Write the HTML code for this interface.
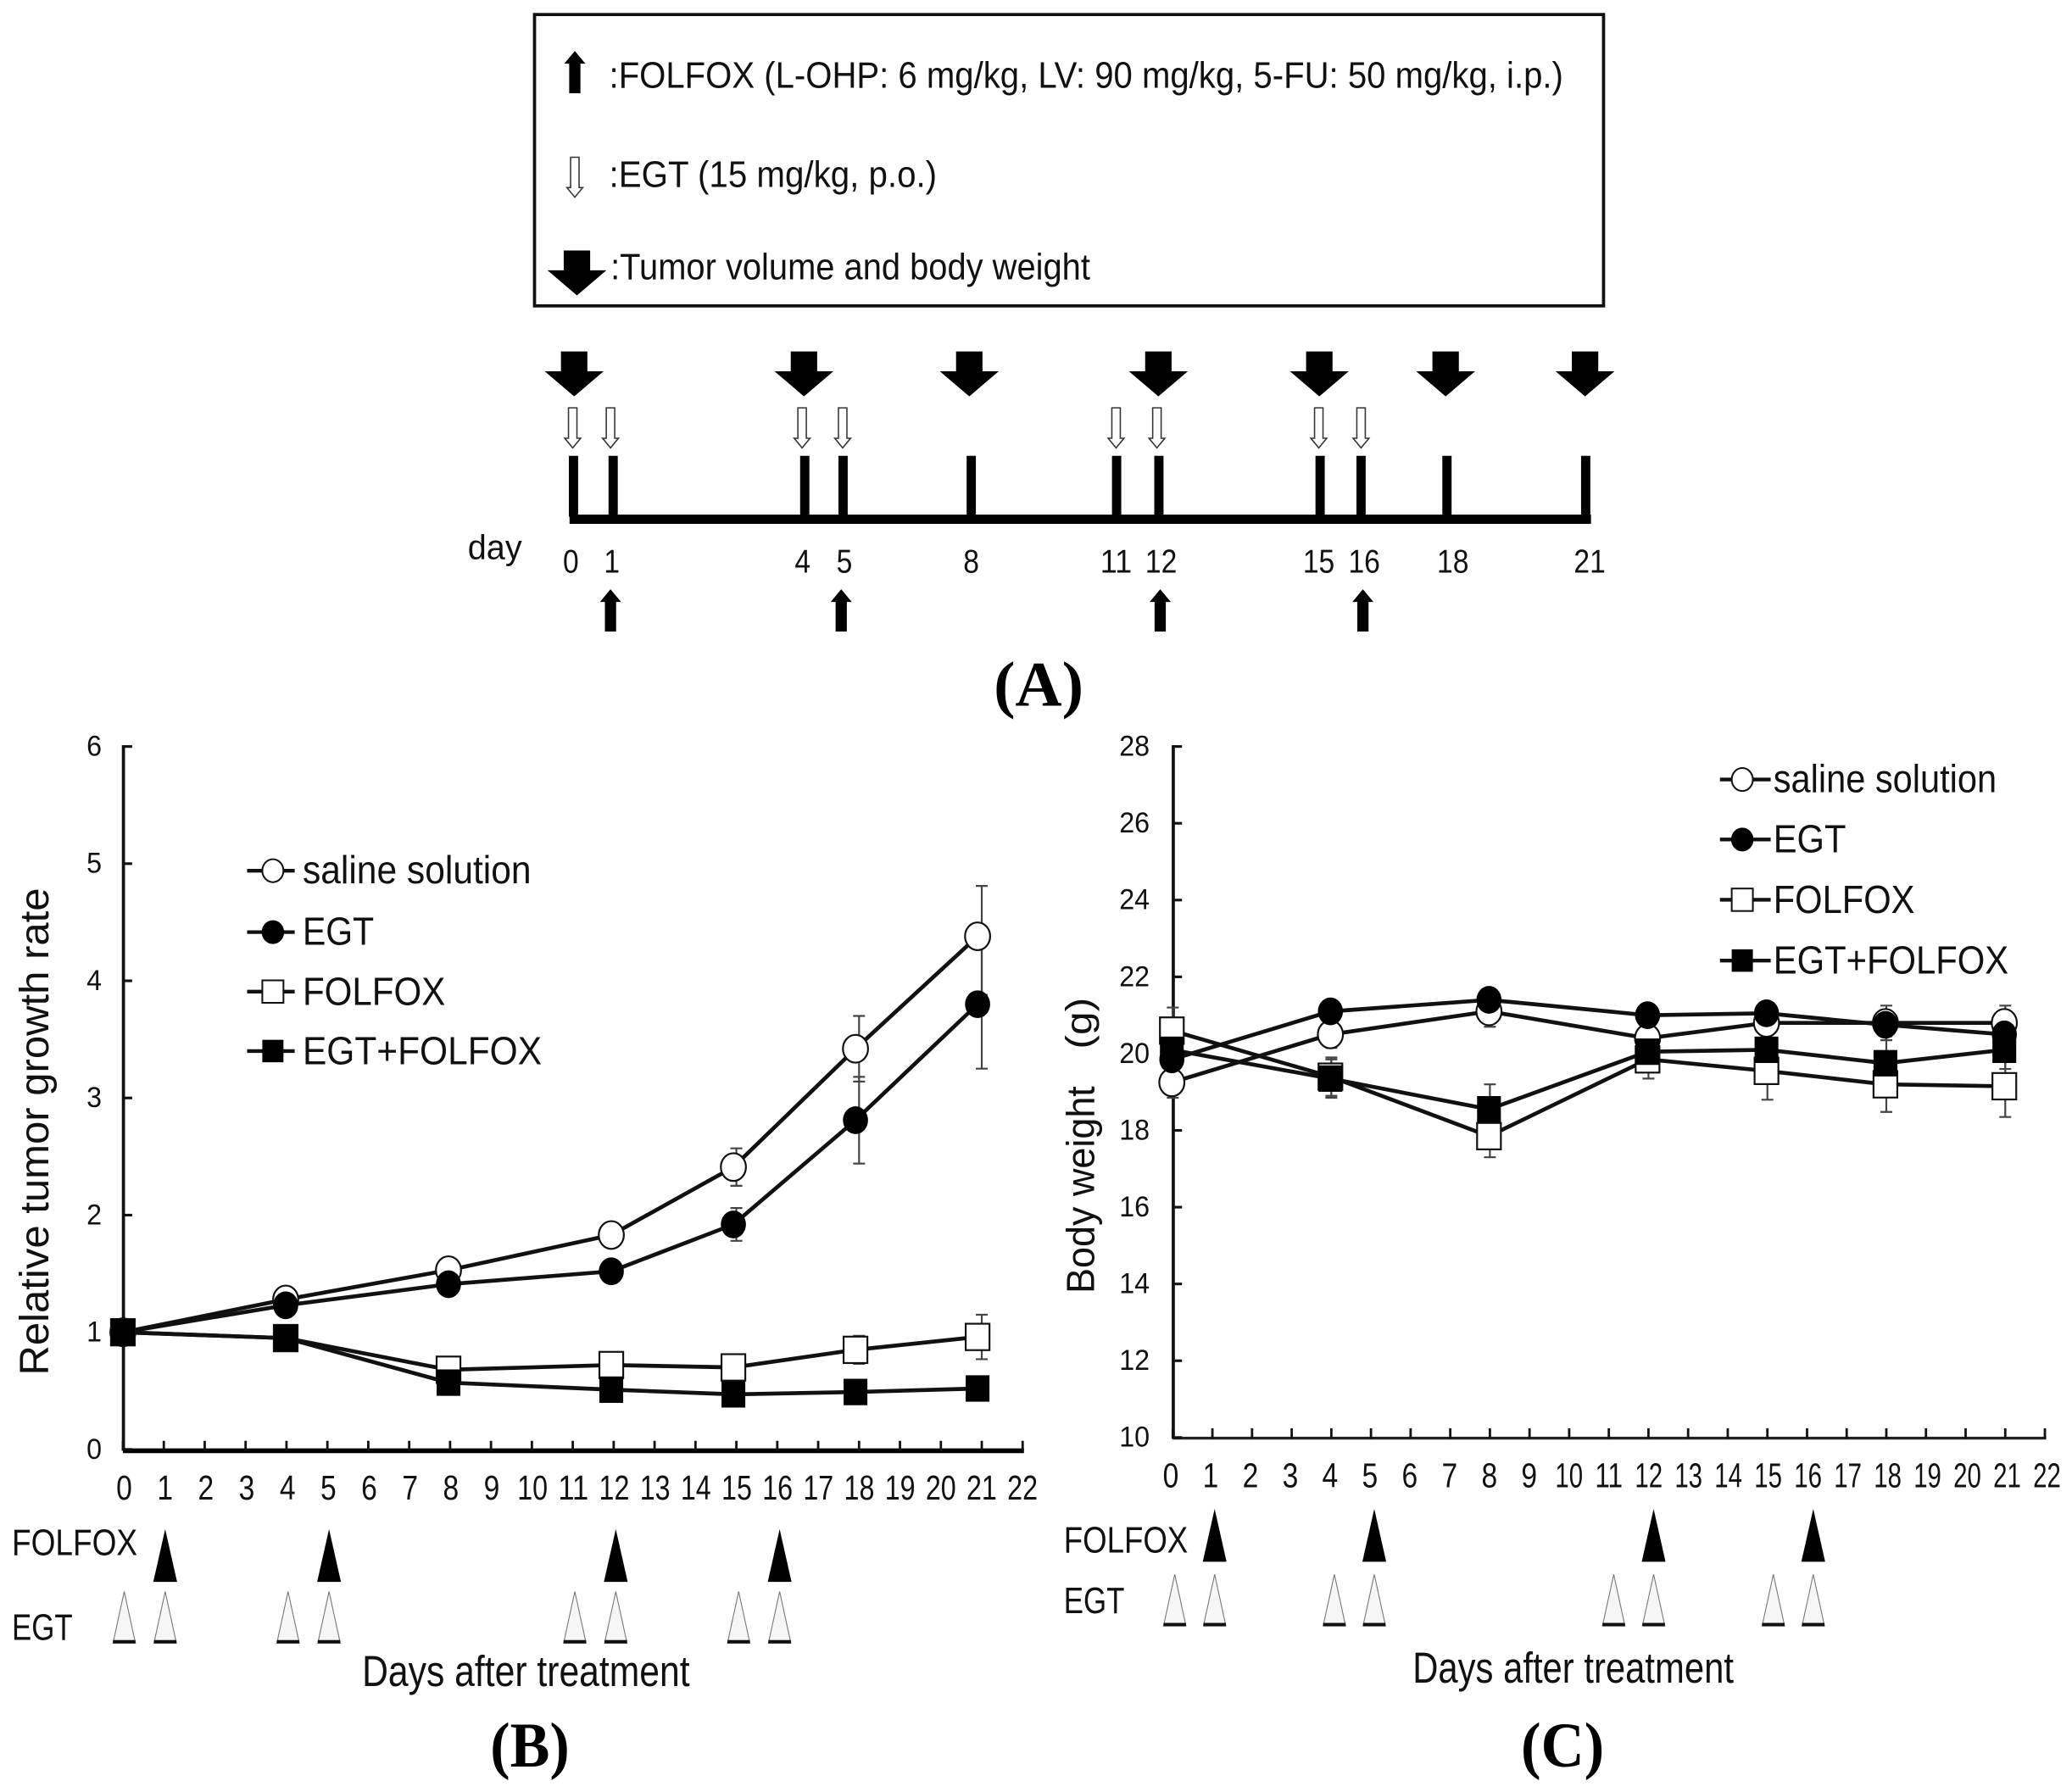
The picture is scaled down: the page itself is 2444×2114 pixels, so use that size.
<!DOCTYPE html>
<html lang="en">
<head>
<meta charset="utf-8">
<title>Treatment schedule, tumor growth and body weight</title>
<style>
html,body{margin:0;padding:0;background:#fff;}
svg{display:block;}
text{font-family:"Liberation Sans","Noto Sans CJK JP",sans-serif;fill:#111;}
.cap{font-family:"Liberation Serif",serif;font-weight:bold;fill:#000;}
</style>
</head>
<body>
<svg id="fig" xmlns="http://www.w3.org/2000/svg" width="2444" height="2114" viewBox="0 0 1568 1356.3">
<defs>
<polygon id="big-arrow" points="-10,0 10,0 10,15 22.3,15 0,34 -22.3,15 -10,15" fill="#000"/>
<polygon id="white-arrow" points="-3.2,0 3.2,0 3.2,23 6,23 0,30.3 -6,23 -3.2,23" fill="#fff" stroke="#333" stroke-width="1"/>
<polygon id="up-arrow" points="0,0 8,9.6 4.25,9.6 4.25,32 -4.25,32 -4.25,9.6 -8,9.6" fill="#000"/>
</defs>
<rect x="0" y="0" width="1568" height="1356.3" fill="#fff"/>

<!-- Panel A -->
<g>
<rect x="404.5" y="11" width="809" height="220.5" fill="#fff" stroke="#111" stroke-width="2.4"/>
<use href="#up-arrow" x="435" y="38.6"/>
<text x="461" y="66.4" font-size="28" textLength="722" lengthAdjust="spacingAndGlyphs">:FOLFOX (L-OHP: 6 mg/kg, LV: 90 mg/kg, 5-FU: 50 mg/kg, i.p.)</text>
<use href="#white-arrow" x="435" y="119"/>
<text x="461" y="141.6" font-size="28" textLength="248" lengthAdjust="spacingAndGlyphs">:EGT (15 mg/kg, p.o.)</text>
<use href="#big-arrow" x="436.6" y="189.6"/>
<text x="462" y="211.4" font-size="28" textLength="363" lengthAdjust="spacingAndGlyphs">:Tumor volume and body weight</text>

<g fill="#000">
<rect x="431" y="389.5" width="773" height="7"/>
<rect x="430.5" y="345" width="7" height="46"/>
<rect x="460.5" y="345" width="7" height="46"/>
<rect x="605.5" y="345" width="7" height="46"/>
<rect x="634.5" y="345" width="7" height="46"/>
<rect x="731.5" y="345" width="7" height="46"/>
<rect x="841.5" y="345" width="7" height="46"/>
<rect x="873.5" y="345" width="7" height="46"/>
<rect x="995.5" y="345" width="7" height="46"/>
<rect x="1026.5" y="345" width="7" height="46"/>
<rect x="1091.5" y="345" width="7" height="46"/>
<rect x="1196.5" y="345" width="7" height="46"/>
</g>

<use href="#big-arrow" x="434.5" y="266"/>
<use href="#big-arrow" x="608.4" y="266"/>
<use href="#big-arrow" x="733.5" y="266"/>
<use href="#big-arrow" x="876.6" y="266"/>
<use href="#big-arrow" x="998.4" y="266"/>
<use href="#big-arrow" x="1094" y="266"/>
<use href="#big-arrow" x="1199.5" y="266"/>

<use href="#white-arrow" x="433.4" y="308.7"/>
<use href="#white-arrow" x="462" y="308.7"/>
<use href="#white-arrow" x="607" y="308.7"/>
<use href="#white-arrow" x="637.7" y="308.7"/>
<use href="#white-arrow" x="844.6" y="308.7"/>
<use href="#white-arrow" x="875.5" y="308.7"/>
<use href="#white-arrow" x="998" y="308.7"/>
<use href="#white-arrow" x="1030" y="308.7"/>

<use href="#up-arrow" x="462" y="446"/>
<use href="#up-arrow" x="636.6" y="446"/>
<use href="#up-arrow" x="878" y="446"/>
<use href="#up-arrow" x="1031.4" y="446"/>

<text x="354" y="423" font-size="26" textLength="41" lengthAdjust="spacingAndGlyphs">day</text>
<g font-size="25" text-anchor="middle">
<text x="432" y="433.5" textLength="12" lengthAdjust="spacingAndGlyphs">0</text>
<text x="463" y="433.5" textLength="12" lengthAdjust="spacingAndGlyphs">1</text>
<text x="607.4" y="433.5" textLength="12" lengthAdjust="spacingAndGlyphs">4</text>
<text x="639" y="433.5" textLength="12" lengthAdjust="spacingAndGlyphs">5</text>
<text x="735" y="433.5" textLength="12" lengthAdjust="spacingAndGlyphs">8</text>
<text x="844.6" y="433.5" textLength="24" lengthAdjust="spacingAndGlyphs">11</text>
<text x="878.7" y="433.5" textLength="24" lengthAdjust="spacingAndGlyphs">12</text>
<text x="998" y="433.5" textLength="24" lengthAdjust="spacingAndGlyphs">15</text>
<text x="1032.4" y="433.5" textLength="24" lengthAdjust="spacingAndGlyphs">16</text>
<text x="1099.5" y="433.5" textLength="24" lengthAdjust="spacingAndGlyphs">18</text>
<text x="1203" y="433.5" textLength="24" lengthAdjust="spacingAndGlyphs">21</text>
</g>
<text class="cap" x="752" y="534" font-size="48" textLength="68" lengthAdjust="spacingAndGlyphs">(A)</text>
</g>

<!-- Panel B static -->
<g>
<text transform="translate(36.5,1041) rotate(-90)" font-size="31" textLength="369" lengthAdjust="spacingAndGlyphs">Relative tumor growth rate</text>
<text x="9" y="1177" font-size="28" textLength="95" lengthAdjust="spacingAndGlyphs">FOLFOX</text>
<text x="9" y="1241" font-size="28" textLength="46" lengthAdjust="spacingAndGlyphs">EGT</text>
<text x="274" y="1276" font-size="33" textLength="248" lengthAdjust="spacingAndGlyphs">Days after treatment</text>
<text class="cap" x="371" y="1337" font-size="48" textLength="60" lengthAdjust="spacingAndGlyphs">(B)</text>
</g>
<g stroke-linejoin="miter">
<g>
<line x1="187" x2="223" y1="659" y2="659" stroke="#111" stroke-width="2.8"/>
<ellipse cx="206.5" cy="659" rx="8" ry="8.7" fill="#fff" stroke="#111" stroke-width="1.3"/>
<text x="229" y="668.5" font-size="30" textLength="173" lengthAdjust="spacingAndGlyphs">saline solution</text>
</g>
<g>
<line x1="187" x2="223" y1="705.5" y2="705.5" stroke="#111" stroke-width="2.8"/>
<ellipse cx="206.5" cy="705.5" rx="8.5" ry="9" fill="#000"/>
<text x="229" y="715" font-size="30" textLength="54" lengthAdjust="spacingAndGlyphs">EGT</text>
</g>
<g>
<line x1="187" x2="223" y1="750.5" y2="750.5" stroke="#111" stroke-width="2.8"/>
<rect x="198.5" y="742" width="16" height="17" fill="#fff" stroke="#111" stroke-width="1.3"/>
<text x="229" y="760.5" font-size="30" textLength="108" lengthAdjust="spacingAndGlyphs">FOLFOX</text>
</g>
<g>
<line x1="187" x2="223" y1="795.5" y2="795.5" stroke="#111" stroke-width="2.8"/>
<rect x="198.5" y="787" width="16" height="17" fill="#000"/>
<text x="229" y="805.5" font-size="30" textLength="181" lengthAdjust="spacingAndGlyphs">EGT+FOLFOX</text>
</g>
</g>

<!-- Panel C static -->
<g>
<text transform="translate(828,979) rotate(-90)" font-size="30" textLength="157" lengthAdjust="spacingAndGlyphs">Body weight</text>
<text transform="translate(826,794) rotate(-90)" font-size="28" textLength="39" lengthAdjust="spacingAndGlyphs">(g)</text>
<text x="805" y="1175" font-size="28" textLength="94" lengthAdjust="spacingAndGlyphs">FOLFOX</text>
<text x="805" y="1221" font-size="28" textLength="46" lengthAdjust="spacingAndGlyphs">EGT</text>
<text x="1069" y="1273.5" font-size="33" textLength="243" lengthAdjust="spacingAndGlyphs">Days after treatment</text>
<text class="cap" x="1151" y="1337" font-size="48" textLength="63" lengthAdjust="spacingAndGlyphs">(C)</text>
</g>
<g>
<g>
<line x1="1301.6" x2="1340" y1="590" y2="590" stroke="#111" stroke-width="2.8"/>
<ellipse cx="1318.5" cy="590" rx="8" ry="8.7" fill="#fff" stroke="#111" stroke-width="1.3"/>
<text x="1342" y="599.5" font-size="30" textLength="169" lengthAdjust="spacingAndGlyphs">saline solution</text>
</g>
<g>
<line x1="1301.6" x2="1340" y1="635.4" y2="635.4" stroke="#111" stroke-width="2.8"/>
<ellipse cx="1318.5" cy="635.4" rx="8.5" ry="9" fill="#000"/>
<text x="1342" y="645" font-size="30" textLength="55" lengthAdjust="spacingAndGlyphs">EGT</text>
</g>
<g>
<line x1="1301.6" x2="1340" y1="681" y2="681" stroke="#111" stroke-width="2.8"/>
<rect x="1310.5" y="672.5" width="16" height="17" fill="#fff" stroke="#111" stroke-width="1.3"/>
<text x="1342" y="691" font-size="30" textLength="107" lengthAdjust="spacingAndGlyphs">FOLFOX</text>
</g>
<g>
<line x1="1301.6" x2="1340" y1="727" y2="727" stroke="#111" stroke-width="2.8"/>
<rect x="1310.5" y="718.5" width="16" height="17" fill="#000"/>
<text x="1342" y="737" font-size="30" textLength="178" lengthAdjust="spacingAndGlyphs">EGT+FOLFOX</text>
</g>
</g>
</svg>

<script>
const measureDays = [0, 4, 8, 12, 15, 18, 21];
const axisDays = [0,1,2,3,4,5,6,7,8,9,10,11,12,13,14,15,16,17,18,19,20,21,22];
const folfoxDoseDays = [1, 5, 12, 16];
const egtDoseDays = [0, 1, 4, 5, 11, 12, 15, 16];

const growthTicks = [0, 1, 2, 3, 4, 5, 6];
const growthSaline = [1, 1.28, 1.53, 1.83, 2.41, 3.42, 4.38];
const growthEgt = [1, 1.23, 1.41, 1.52, 1.92, 2.81, 3.80];
const growthFolfox = [1, 0.95, 0.68, 0.72, 0.70, 0.85, 0.96];
const growthCombo = [1, 0.95, 0.57, 0.51, 0.47, 0.49, 0.52];
const growthErrSaline = [0, 0.03, 0.05, 0.05, 0.16, 0.28, 0.43];
const growthErrSalineLow = [0, 0.03, 0.05, 0.05, 0.16, 0.28, 0.5];
const growthErrEgt = [0, 0.03, 0.05, 0.07, 0.14, 0.37, 0.55];
const growthErrFolfox = [0, 0.03, 0.04, 0.05, 0.05, 0.12, 0.19];
const growthErrCombo = [0, 0.03, 0.03, 0.03, 0.03, 0.03, 0.03];

const weightTicks = [10, 12, 14, 16, 18, 20, 22, 24, 26, 28];
const weightSaline = [19.25, 20.5, 21.1, 20.4, 20.8, 20.8, 20.8];
const weightEgt = [19.85, 21.1, 21.4, 21.0, 21.05, 20.75, 20.5];
const weightFolfox = [20.6, 19.4, 17.85, 19.85, 19.55, 19.2, 19.15];
const weightCombo = [20.1, 19.35, 18.55, 20.05, 20.1, 19.75, 20.1];
const weightErrSaline = [0.4, 0.35, 0.4, 0.3, 0.3, 0.45, 0.45];
const weightErrEgt = [0.3, 0.1, 0.1, 0.2, 0.2, 0.3, 0.3];
const weightErrFolfox = [0.6, 0.5, 0.55, 0.5, 0.75, 0.72, 0.8];
const weightErrCombo = [0.3, 0.5, 0.65, 0.3, 0.3, 0.6, 0.5];

const NS = 'http://www.w3.org/2000/svg';
const fig = document.getElementById('fig');

function make(tag, attrs, parent) {
  const el = document.createElementNS(NS, tag);
  for (const k in attrs) el.setAttribute(k, attrs[k]);
  parent.appendChild(el);
  return el;
}

function drawChart(cfg) {
  const g = make('g', {}, fig);
  
  

  const tickX = d => cfg.x0 + cfg.dx * d;
  const markX = d => cfg.mx0 + cfg.mdx * d;
  const labelX = d => cfg.lx0 + cfg.ldx * d;
  const doseX = d => cfg.tx0 + cfg.tdx * d;
  const yMin = cfg.yTicks[0];
  const yMax = cfg.yTicks[cfg.yTicks.length - 1];
  const y = v => cfg.yBottom + (v - yMin) * (cfg.yTop - cfg.yBottom) / (yMax - yMin);

  // axes
  const yAxis = make('line', {x1: cfg.x0 + 0.4, x2: cfg.x0 + 0.4, y1: cfg.yTop - 1, y2: cfg.yBottom + 1, stroke: '#111', 'stroke-width': 2.4}, g);
  
  
  const xAxis = make('line', {x1: cfg.x0, x2: tickX(22) + 1, y1: cfg.axisY, y2: cfg.axisY, stroke: cfg.axisColor, 'stroke-width': cfg.axisW}, g);
  
  

  cfg.yTicks.forEach(v => {
    const t = make('line', {x1: cfg.x0, x2: cfg.x0 + 7, y1: y(v), y2: y(v), stroke: '#111', 'stroke-width': 2}, g);
    
    
    const l = make('text', {x: cfg.yLabelX, y: y(v) + 7, 'font-size': 22, 'text-anchor': 'end', textLength: String(v).length * 11.5, lengthAdjust: 'spacingAndGlyphs'}, g);
    l.textContent = v;
    
    
  });

  axisDays.forEach(d => {
    const t = make('line', {x1: tickX(d), x2: tickX(d), y1: cfg.axisY, y2: cfg.axisY - 7.5, stroke: '#111', 'stroke-width': 1.8}, g);
    
    
    const two = d > 9;
    const l = make('text', {x: labelX(d), y: cfg.xLabelY, 'font-size': 26, 'text-anchor': 'middle', textLength: two ? cfg.twoW : 12, lengthAdjust: 'spacingAndGlyphs'}, g);
    l.textContent = d;
    
    
  });

  // error bars
  cfg.series.forEach(s => {
    measureDays.forEach((d, i) => {
      const e = s.err[i];
      if (!e) return;
      const eLow = s.errLow ? s.errLow[i] : e;
      const xx = tickX(d);
      const hi = y(s.vals[i] + e);
      const lo = y(s.vals[i] - eLow);
      const bar = make('path', {
        d: 'M' + (xx - 4.5) + ' ' + hi + 'H' + (xx + 4.5) + 'M' + xx + ' ' + hi + 'V' + lo + 'M' + (xx - 4.5) + ' ' + lo + 'H' + (xx + 4.5),
        fill: 'none', stroke: '#444', 'stroke-width': 1.4
      }, g);
      
      
    });
  });

  // series
  cfg.series.forEach(s => {
    const pts = measureDays.map((d, i) => markX(d) + ',' + y(s.vals[i])).join(' ');
    const line = make('polyline', {points: pts, fill: 'none', stroke: '#111', 'stroke-width': 3, 'stroke-linejoin': 'round'}, g);
    
    
  });
  cfg.series.forEach(s => {
    measureDays.forEach((d, i) => {
      const cx = markX(d);
      const cy = y(s.vals[i]);
      let m;
      if (s.shape === 'circle') {
        m = make('ellipse', {cx: cx, cy: cy, rx: 9.5, ry: 10.5, fill: s.fill, stroke: '#111', 'stroke-width': s.fill === '#fff' ? 1.4 : 0}, g);
      } else {
        m = make('rect', {x: cx - 9, y: cy - 10, width: 18, height: 20, fill: s.fill, stroke: '#111', 'stroke-width': s.fill === '#fff' ? 1.4 : 0}, g);
      }
      
      
    });
  });

  // dose triangles
  folfoxDoseDays.forEach(d => {
    const c = doseX(d);
    const tri = make('polygon', {points: c + ',' + cfg.blackTop + ' ' + (c + 9) + ',' + (cfg.blackTop + 40) + ' ' + (c - 9) + ',' + (cfg.blackTop + 40), fill: '#000'}, g);
    
    
  });
  egtDoseDays.forEach(d => {
    const c = doseX(d);
    const tri = make('polygon', {points: c + ',' + cfg.whiteTop + ' ' + (c + 8.5) + ',' + (cfg.whiteTop + 39) + ' ' + (c - 8.5) + ',' + (cfg.whiteTop + 39), fill: '#f6f6f6', stroke: '#777', 'stroke-width': 0.7}, g);
    
    
    const foot = make('line', {x1: c - 8.5, x2: c + 8.5, y1: cfg.whiteTop + 38, y2: cfg.whiteTop + 38, stroke: '#111', 'stroke-width': 2.6}, g);
    
    
  });
}

drawChart({
  id: 'growth', x0: 93, dx: 30.95, mx0: 93, mdx: 30.8, lx0: 94, ldx: 30.9, tx0: 94, tdx: 31,
  yTicks: growthTicks, yBottom: 1097, yTop: 565, axisY: 1098, axisW: 3.6, axisColor: '#000',
  yLabelX: 77, xLabelY: 1135, twoW: 23, blackTop: 1157.3, whiteTop: 1204.6,
  series: [
    {key: 'growth-saline', vals: growthSaline, err: growthErrSaline, errLow: growthErrSalineLow, shape: 'circle', fill: '#fff'},
    {key: 'growth-egt', vals: growthEgt, err: growthErrEgt, shape: 'circle', fill: '#000'},
    {key: 'growth-folfox', vals: growthFolfox, err: growthErrFolfox, shape: 'square', fill: '#fff'},
    {key: 'growth-egt-folfox', vals: growthCombo, err: growthErrCombo, shape: 'square', fill: '#000'}
  ]
});

drawChart({
  id: 'weight', x0: 887.5, dx: 30, mx0: 886.8, mdx: 30, lx0: 886, ldx: 30.14, tx0: 889, tdx: 30.2,
  yTicks: weightTicks, yBottom: 1088, yTop: 565, axisY: 1088.5, axisW: 2.2, axisColor: '#222',
  yLabelX: 870, xLabelY: 1125.5, twoW: 21, blackTop: 1142, whiteTop: 1191.6,
  series: [
    {key: 'weight-saline', vals: weightSaline, err: weightErrSaline, shape: 'circle', fill: '#fff'},
    {key: 'weight-egt', vals: weightEgt, err: weightErrEgt, shape: 'circle', fill: '#000'},
    {key: 'weight-folfox', vals: weightFolfox, err: weightErrFolfox, shape: 'square', fill: '#fff'},
    {key: 'weight-egt-folfox', vals: weightCombo, err: weightErrCombo, shape: 'square', fill: '#000'}
  ]
});
</script>
</body>
</html>
